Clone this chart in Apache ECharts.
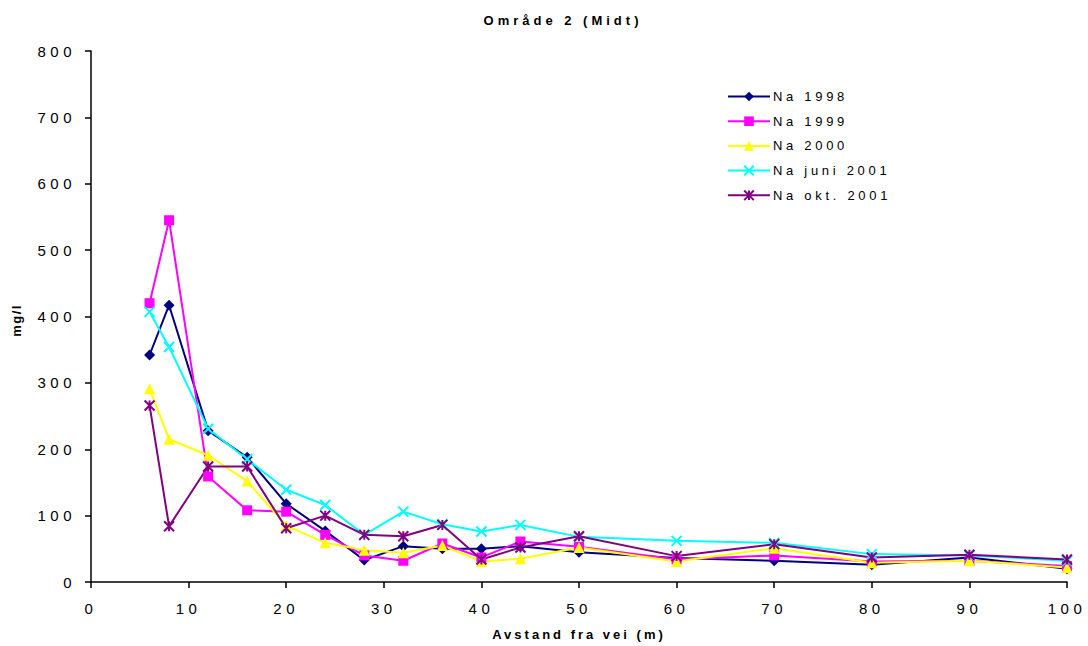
<!DOCTYPE html>
<html>
<head>
<meta charset="utf-8">
<script src="https://cdn.jsdelivr.net/npm/echarts@6/dist/echarts.min.js"></script>
<style>
html,body{margin:0;padding:0;background:#fff;}
#chart{width:1088px;height:646px;}
</style>
</head>
<body>
<div id="chart"></div>
<script>
const distances = [6, 8, 12, 16, 20, 24, 28, 32, 36, 40, 44, 50, 60, 70, 80, 90, 100];
const na1998 = [342, 417, 228, 188, 118, 77, 33, 54, 50, 50, 54, 45, 36, 32, 26, 37, 20];
const na1999 = [420, 545, 159, 108, 106, 71, 40, 32, 58, 37, 61, 53, 34, 40, 31, 32, 24];
const na2000 = [291, 215, 191, 152, 85, 59, 48, 44, 55, 31, 35, 52, 31, 51, 29, 32, 22];
const naJuni2001 = [407, 354, 231, 185, 139, 116, 71, 106, 87, 76, 86, 68, 62, 59, 42, 40, 32];
const naOkt2001 = [266, 84, 174, 174, 81, 100, 71, 69, 86, 34, 52, 69, 39, 57, 37, 41, 34];
const seriesNames = ['Na 1998', 'Na 1999', 'Na 2000', 'Na juni 2001', 'Na okt. 2001'];
const yTicks = [0, 100, 200, 300, 400, 500, 600, 700, 800];
const xTicks = [0, 10, 20, 30, 40, 50, 60, 70, 80, 90, 100];
const titleText = 'Område 2 (Midt)';
const xName = 'Avstand fra vei (m)';
const yName = 'mg/l';

const pairs = arr => distances.map((d, i) => [d, arr[i]]);
const font = '"Liberation Sans", Arial, sans-serif';
const XPATH = 'path://M0,0L10,10M10,0L0,10';
const STAR = 'path://M0,0L10,10M10,0L0,10M5,0L5,10';

function mk(name, data, color, symbol, size, stroke) {
  return {
    name: name, type: 'line', data: pairs(data),
    symbol: symbol, symbolSize: size, showSymbol: true,
    lineStyle: {color: color, width: 2},
    itemStyle: stroke ? {color: color, borderColor: color, borderWidth: 2} : {color: color, borderWidth: 0},
    emphasis: {disabled: true}, animation: false, z: 2
  };
}

const chart = echarts.init(document.getElementById('chart'), null, {renderer: 'svg'});
chart.setOption({
  animation: false,
  backgroundColor: '#fff',
  title: {
    text: titleText, left: 558, top: 9, textAlign: 'center',
    textStyle: {fontFamily: font, fontSize: 13, fontWeight: 'bold', color: '#000'}
  },
  legend: {
    orient: 'vertical', left: 727, top: 90, padding: 0, itemWidth: 42, itemHeight: 12, itemGap: 11.7,
    textStyle: {fontFamily: font, fontSize: 13, color: '#000', padding: [0,0,0,-2]},
    data: seriesNames
  },
  grid: {left: 91, right: 21, top: 51, bottom: 62, containLabel: false},
  xAxis: {
    type: 'value', min: xTicks[0], max: xTicks[xTicks.length - 1], interval: 10,
    name: xName, nameLocation: 'middle', nameGap: 46,
    nameTextStyle: {fontFamily: font, fontSize: 13, fontWeight: 'bold', color: '#000'},
    axisLine: {show: true, lineStyle: {color: '#000', width: 1.5}},
    axisTick: {show: true, inside: false, length: 6, lineStyle: {color: '#000', width: 1.5}},
    axisLabel: {fontFamily: font, fontSize: 15, color: '#000', margin: 19},
    splitLine: {show: false}
  },
  yAxis: {
    type: 'value', min: yTicks[0], max: yTicks[yTicks.length - 1], interval: 100,
    name: yName, nameLocation: 'middle', nameGap: 68, nameRotate: 90,
    nameTextStyle: {fontFamily: font, fontSize: 13, fontWeight: 'bold', color: '#000', padding: [0,0,0,-8]},
    axisLine: {show: true, lineStyle: {color: '#000', width: 1.5}},
    axisTick: {show: true, inside: false, length: 6, lineStyle: {color: '#000', width: 1.5}},
    axisLabel: {fontFamily: font, fontSize: 15, color: '#000', margin: 15},
    splitLine: {show: false}
  },
  series: [
    mk(seriesNames[0], na1998, '#000080', 'diamond', 11, false),
    mk(seriesNames[1], na1999, '#FF00FF', 'rect', 10, false),
    mk(seriesNames[2], na2000, '#FFFF00', 'triangle', 11, false),
    mk(seriesNames[3], naJuni2001, '#00FFFF', XPATH, 10, true),
    mk(seriesNames[4], naOkt2001, '#800080', STAR, 10, true)
  ]
});

function applySpacing() {
  document.querySelectorAll('#chart svg text').forEach(t => {
    const s = t.textContent;
    let ls = '4.5px';
    if (s === titleText) ls = '4px';
    else if (seriesNames.indexOf(s) >= 0) ls = '3.7px';
    else if (s === xName) ls = '3px';
    else if (s === yName) ls = '1.5px';
    t.style.letterSpacing = ls;
  });
}
chart.on('finished', applySpacing);
applySpacing();
setTimeout(applySpacing, 50);
setTimeout(applySpacing, 300);
</script>
</body>
</html>
